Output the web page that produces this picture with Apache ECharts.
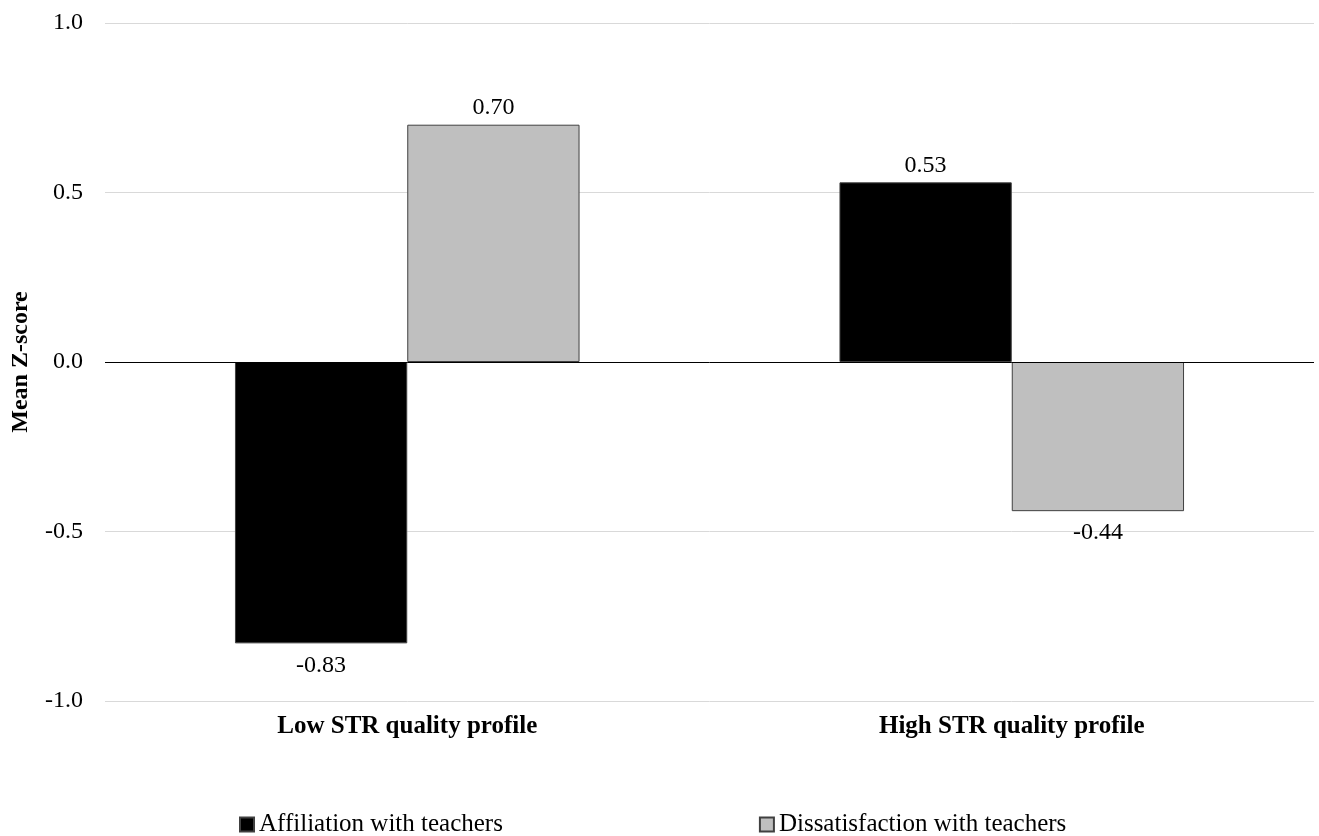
<!DOCTYPE html>
<html><head><meta charset="utf-8">
<script src="https://cdn.jsdelivr.net/npm/echarts@6/dist/echarts.min.js"></script>
<style>html,body{margin:0;padding:0;background:#fff}#c{width:1319px;height:836px}</style>
</head><body><div id="c"></div>
<script>
const categories = ['Low STR quality profile', 'High STR quality profile'];
const affiliation = [-0.83, 0.53];
const dissatisfaction = [0.70, -0.44];
const seriesNames = ['Affiliation with teachers', 'Dissatisfaction with teachers'];
const yTicks = [-1.0, -0.5, 0.0, 0.5, 1.0];

const FONT = '"Liberation Serif", "Times New Roman", serif';
const chart = echarts.init(document.getElementById('c'));
const lbl = {show: true, position: 'outside', formatter: p => p.value.toFixed(2), fontFamily: FONT, fontSize: 24, color: '#000', distance: 5};
const withLabels = arr => arr.map(v => ({value: v, label: {distance: v < 0 ? 10 : 5}}));
chart.setOption({
  animation: false,
  textStyle: {fontFamily: FONT},
  grid: {left: 105, right: 5, top: 23, bottom: 135},
  legend: {
    top: 807, left: 234, itemGap: 256, itemWidth: 14, itemHeight: 14, icon: 'rect', itemTextGap: 6,
    textStyle: {fontFamily: FONT, fontSize: 25, color: '#000'},
    data: seriesNames
  },
  xAxis: {
    type: 'category', data: categories,
    axisLine: {show: false, onZero: false}, axisTick: {show: false},
    axisLabel: {fontFamily: FONT, fontSize: 25, fontWeight: 'bold', color: '#000', margin: 13}
  },
  yAxis: {
    type: 'value', min: yTicks[0], max: yTicks[yTicks.length-1], interval: 0.5,
    name: 'Mean Z-score', nameLocation: 'middle', nameGap: 72,
    nameTextStyle: {fontFamily: FONT, fontSize: 24, fontWeight: 'bold', color: '#000'},
    axisLine: {show: false}, axisTick: {show: false},
    axisLabel: {fontFamily: FONT, fontSize: 24, color: '#000', margin: 22, formatter: v => v.toFixed(1)},
    splitLine: {lineStyle: {color: '#d9d9d9', width: 1}}
  },
  series: [
    {name: seriesNames[0], type: 'bar', data: withLabels(affiliation), barGap: '0%', barCategoryGap: '43%',
     itemStyle: {color: '#000', borderColor: '#404040', borderWidth: 1}, label: lbl,
     markLine: {silent: true, symbol: 'none', label: {show: false}, lineStyle: {color: '#000', width: 1, type: 'solid'}, data: [{yAxis: 0}]}},
    {name: seriesNames[1], type: 'bar', data: withLabels(dissatisfaction), barGap: '0%', barCategoryGap: '43%',
     itemStyle: {color: '#bfbfbf', borderColor: '#404040', borderWidth: 1}, label: lbl}
  ]
});
</script></body></html>
